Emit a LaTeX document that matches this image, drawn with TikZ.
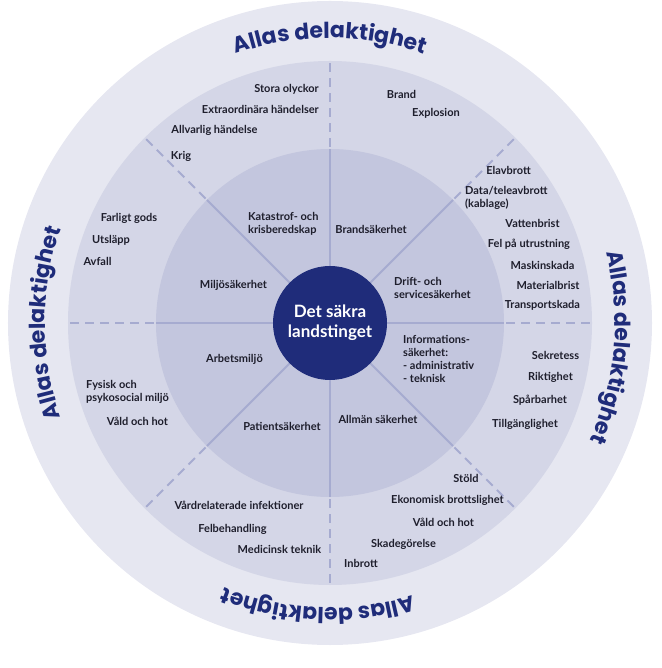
\documentclass[tikz,border=0pt]{standalone}
\usepackage{fontspec}
\setmainfont{Lato}
\newfontfamily\allasfont{Poppins}
\usetikzlibrary{decorations.text}
\definecolor{ringout}{HTML}{E6E7F1}
\definecolor{ringmid}{HTML}{D4D6E7}
\definecolor{ringin}{HTML}{C3C6DE}
\definecolor{navy}{HTML}{1F2C7A}
\definecolor{linecol}{HTML}{A6ABD0}
\definecolor{labtext}{HTML}{1E1E2C}
\begin{document}
\begin{tikzpicture}[x=1pt,y=1pt,
  lab/.style={font=\bfseries\fontsize{11}{13}\selectfont, text=labtext, inner sep=0pt, text height=7.8pt, text depth=2.6pt},
  mlab/.style={font=\bfseries\fontsize{11}{13}\selectfont, text=labtext, inner sep=0pt, align=left, anchor=west},
  solidline/.style={draw=linecol, line width=2pt},
  dashline/.style={draw=linecol, line width=2pt, dash pattern=on 9pt off 6pt},
  allas/.style={decorate, decoration={text along path, text align=center,
     text={|\allasfont\bfseries\fontsize{22}{22}\selectfont\color{navy}|Allas delaktighet}}}
]
\useasboundingbox (-330,323) rectangle (331,-345);
\fill[ringout] (0,0) circle (322);
\fill[ringmid] (0,0) circle (262);
\fill[ringin] (0,0) circle (174);
\foreach \a in {0,45,...,315} {
  \draw[solidline] (\a:57) -- (\a:174);
  \draw[dashline] (\a:176) -- (\a:262);
}
\node[circle, fill=navy, minimum size=114pt, inner sep=0pt, text=white, align=center,
  font=\bfseries\fontsize{17}{20}\selectfont] (core) at (0,0) {Det säkra\\landstinget};

% curved titles
\path[allas] (150:285) arc[start angle=150, end angle=30, radius=285];
\path[allas] (55:285) arc[start angle=55, end angle=-65, radius=285];
\path[allas] (-32.5:285) arc[start angle=-32.5, end angle=-152.5, radius=285];
\path[allas] (240:285) arc[start angle=240, end angle=120, radius=285];

% inner ring
\node[mlab] (kat) at (-82,99.5) {Katastrof- och\\krisberedskap};
\node[lab] (brs) at (41,92) {Brandsäkerhet};
\node[lab] (mil) at (-96.5,37) {Miljösäkerhet};
\node[mlab] (dri) at (64,35.5) {Drift- och\\servicesäkerhet};
\node[lab] (arb) at (-95.5,-37) {Arbetsmiljö};
\node[mlab] (inf) at (73,-36) {Informations-\\säkerhet:\\- administrativ\\- teknisk};
\node[lab] (pat) at (-48,-105) {Patientsäkerhet};
\node[lab] (all) at (48,-98) {Allmän säkerhet};

% top-left sector
\node[lab, anchor=east] (so) at (-11,233) {Stora olyckor};
\node[lab, anchor=east] (eh) at (-11,212) {Extraordinära händelser};
\node[lab] (ah) at (-115.5,192) {Allvarlig händelse};
\node[lab] (kr) at (-149,166) {Krig};
% top-right
\node[lab] (br) at (71.5,227) {Brand};
\node[lab] (ex) at (106,209) {Explosion};
% right upper
\node[lab] (el) at (178.5,151) {Elavbrott};
\node[mlab] (dt) at (135,125.5) {Data/teleavbrott\\(kablage)};
\node[lab] (va) at (202.5,98) {Vattenbrist};
\node[lab] (fe) at (199,78) {Fel på utrustning};
\node[lab] (ma) at (212.5,56) {Maskinskada};
\node[lab] (mb) at (218,36) {Materialbrist};
\node[lab] (tr) at (212.5,17) {Transportskada};
% right lower
\node[lab] (se) at (225.5,-34) {Sekretess};
\node[lab] (ri) at (220.5,-55) {Riktighet};
\node[lab] (sp) at (210,-78) {Spårbarhet};
\node[lab] (ti) at (195,-102) {Tillgänglighet};
% bottom right
\node[lab] (st) at (136,-157) {Stöld};
\node[lab] (eb) at (117.5,-178) {Ekonomisk brottslighet};
\node[lab] (vh) at (113.5,-201) {Våld och hot};
\node[lab] (sk) at (73.5,-222) {Skadegörelse};
\node[lab] (ib) at (31,-242) {Inbrott};
% bottom left
\node[lab] (vi) at (-91,-184) {Vårdrelaterade infektioner};
\node[lab] (fb) at (-97.5,-207) {Felbehandling};
\node[lab] (mt) at (-50.5,-228) {Medicinsk teknik};
% left lower
\node[mlab] (fy) at (-244,-69) {Fysisk och\\psykosocial miljö};
\node[lab] (vh2) at (-192.5,-100) {Våld och hot};
% left upper
\node[lab] (fg) at (-201,104) {Farligt gods};
\node[lab] (ut) at (-219,82) {Utsläpp};
\node[lab] (av) at (-232.5,60) {Avfall};
\end{tikzpicture}
\end{document}
